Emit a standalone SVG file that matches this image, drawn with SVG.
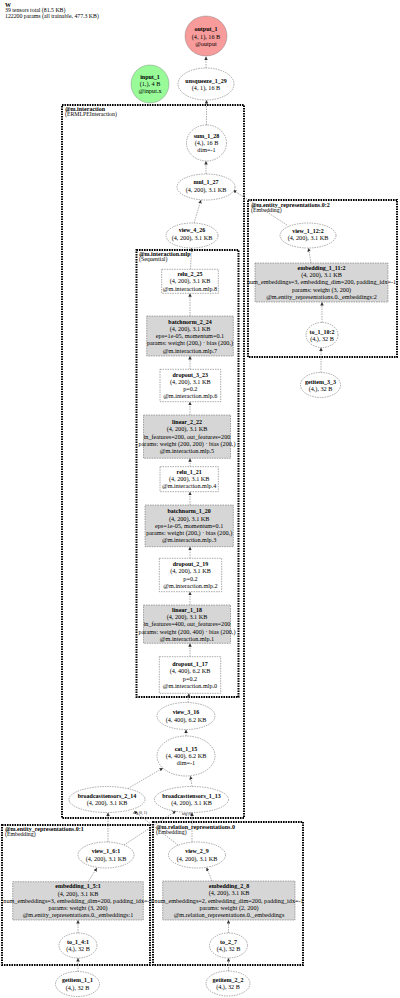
<svg xmlns="http://www.w3.org/2000/svg" width="400" height="998" viewBox="0 0 400 998">
<style>
text{font-family:"Liberation Serif","Times New Roman",serif;font-size:6.2px;fill:#000}
.c{text-anchor:middle}
.b{font-weight:bold;font-size:6px}
.t{font-size:5.8px}
.nd{fill:#fff;stroke:#555;stroke-width:0.5;stroke-dasharray:1.5 1}
.pm{fill:#d6d6d6}
.io{stroke:#777;stroke-width:0.4}
.cl{fill:none;stroke:#000;stroke-width:2;stroke-dasharray:1.6 0.9}
.e{fill:none;stroke:#777;stroke-width:0.6;stroke-dasharray:1.5 1;marker-end:url(#ah)}
.el{font-size:3.8px}
</style>
<defs>
<marker id="ah" viewBox="0 0 10 10" refX="10" refY="5" markerUnits="userSpaceOnUse" markerWidth="3.5" markerHeight="3.5" orient="auto">
<path d="M0,0 L10,5 L0,10 z" fill="#333"/>
</marker>
</defs>
<rect width="400" height="998" fill="#fff"/>
<g id="title">
<text x="5" y="7" class="b">W</text>
<text x="5" y="12.2" class="t">39 tensors total (81.5 KB)</text>
<text x="5" y="17.5" class="t">122200 params (all trainable, 477.3 KB)</text>
</g>
<g id="clusters">
<g id="cl_interaction"><rect class="cl" x="62" y="105" width="182" height="713"/>
<text x="65" y="111" class="b">@m.interaction</text><text x="65" y="116.3" class="t">(ERMLPEInteraction)</text></g>
<g id="cl_entity2"><rect class="cl" x="248" y="200" width="149" height="157"/>
<text x="251" y="206.5" class="b">@m.entity_representations.0:2</text><text x="251" y="212" class="t">(Embedding)</text></g>
<g id="cl_mlp"><rect class="cl" x="136.5" y="250" width="102" height="447"/>
<text x="139" y="256" class="b">@m.interaction.mlp</text><text x="139" y="261.3" class="t">(Sequential)</text></g>
<g id="cl_entity1"><rect class="cl" x="2" y="825" width="148" height="140"/>
<text x="5" y="830.5" class="b">@m.entity_representations.0:1</text><text x="5" y="835.5" class="t">(Embedding)</text></g>
<g id="cl_relation"><rect class="cl" x="153" y="822" width="150" height="143"/>
<text x="156" y="829" class="b">@m.relation_representations.0</text><text x="156" y="834" class="t">(Embedding)</text></g>
</g>
<g id="connectors">
<path class="e" d="M206,68 L206,56.5"/>
<path class="e" d="M206.5,125 L206.5,100"/>
<path class="e" d="M206,174 L206,161"/>
<path class="e" d="M194,223 L201,200"/>
<path class="e" d="M287,225 L233,190"/>
<path class="e" d="M311,263 L308.5,248"/>
<path class="e" d="M322,322.5 L322,302"/>
<path class="e" d="M321,372.5 L321,347.5"/>
<path class="e" d="M190.5,269.3 L191.5,248"/>
<path class="e" d="M190,316 L190,293.3"/>
<path class="e" d="M190,369.3 L190,356"/>
<path class="e" d="M190,415 L190,401.7"/>
<path class="e" d="M190,466.7 L190,458.3"/>
<path class="e" d="M190,505 L190,491.7"/>
<path class="e" d="M190,558.3 L190,546.7"/>
<path class="e" d="M190,605 L190,591.7"/>
<path class="e" d="M190,656.7 L190,643.3"/>
<path class="e" d="M188,702.5 L189,693.3"/>
<path class="e" d="M186,736 L186,729.5"/>
<path class="e" d="M128,788.5 L163,768"/>
<path class="e" d="M192,786.5 L190.5,776"/>
<path class="e" d="M108,842 L108,812.5"/>
<path class="e" d="M124,845 L176,811"/>
<path class="e" d="M178,845 L134,811"/>
<path class="e" d="M192,842 L192,812.5"/>
<path class="e" d="M88,881.7 L97,868"/>
<path class="e" d="M78,933 L78,920"/>
<path class="e" d="M78,971.5 L78,958"/>
<path class="e" d="M212,881 L206.5,867.5"/>
<path class="e" d="M228.5,933 L228.5,920"/>
<path class="e" d="M228.5,971 L228.5,958"/>
<text class="el" x="133" y="814">arg (0, 1)</text>
<text class="el" x="182" y="815">arg (0)</text>
</g>
<g id="output_1"><ellipse class="io" cx="206" cy="36" rx="21" ry="20" fill="#f79b9b"/>
<text class="c b" x="206" y="31.3">output_1</text><text class="c" x="206" y="38.7">(4, 1), 16 B</text><text class="c" x="206" y="45.7">@output</text></g>
<g id="input_1"><circle class="io" cx="150" cy="84" r="19" fill="#98fb98"/>
<text class="c b" x="150" y="79.3">input_1</text><text class="c" x="150" y="86.3">(1,), 4 B</text><text class="c" x="150" y="93">@input.x</text></g>
<g id="unsqueeze_1_29"><ellipse class="nd" cx="206" cy="84" rx="28" ry="16"/>
<text class="c b" x="206" y="83">unsqueeze_1_29</text><text class="c" x="206" y="90.3">(4, 1), 16 B</text></g>
<g id="sum_1_28"><ellipse class="nd" cx="206.5" cy="143" rx="20" ry="18"/>
<text class="c b" x="206.5" y="138">sum_1_28</text><text class="c" x="206.5" y="145">(4,), 16 B</text><text class="c" x="206.5" y="152">dim=-1</text></g>
<g id="mul_1_27"><ellipse class="nd" cx="206" cy="187" rx="29" ry="13"/>
<text class="c b" x="206" y="184.3">mul_1_27</text><text class="c" x="206" y="191.5">(4, 200), 3.1 KB</text></g>
<g id="view_4_26"><ellipse class="nd" cx="192" cy="235.5" rx="26" ry="12.5"/>
<text class="c b" x="192" y="232.3">view_4_26</text><text class="c" x="192" y="239.7">(4, 200), 3.1 KB</text></g>
<g id="view_1_12_2"><ellipse class="nd" cx="308" cy="235.5" rx="28" ry="12.5"/>
<text class="c b" x="308" y="232.6">view_1_12:2</text><text class="c" x="308" y="240">(4, 200), 3.1 KB</text></g>
<g id="embedding_1_11_2"><rect class="nd pm" x="255" y="263" width="133" height="39"/>
<text class="c b" x="321.5" y="269.7">embedding_1_11:2</text><text class="c" x="321.5" y="277">(4, 200), 3.1 KB</text><text class="c" x="321.5" y="284.3">num_embeddings=3, embedding_dim=200, padding_idx=-1</text><text class="c" x="321.5" y="291.5">params: weight (3, 200)</text><text class="c" x="321.5" y="298.7">@m.entity_representations.0._embeddings:2</text></g>
<g id="to_1_10_2"><ellipse class="nd" cx="322" cy="335" rx="16" ry="12.5"/>
<text class="c b" x="322" y="333.7">to_1_10:2</text><text class="c" x="322" y="341">(4,), 32 B</text></g>
<g id="getitem_3_3"><ellipse class="nd" cx="320.5" cy="385" rx="20" ry="12.5"/>
<text class="c b" x="320.5" y="383.7">getitem_3_3</text><text class="c" x="320.5" y="390.8">(4,), 32 B</text></g>
<g id="relu_2_25"><rect class="nd" x="161.7" y="269.3" width="56.6" height="24"/>
<text class="c b" x="190" y="276">relu_2_25</text><text class="c" x="190" y="283.3">(4, 200), 3.1 KB</text><text class="c" x="190" y="290.6">@m.interaction.mlp.8</text></g>
<g id="batchnorm_2_24"><rect class="nd pm" x="146.7" y="316" width="86.6" height="40"/>
<text class="c b" x="190" y="323.5">batchnorm_2_24</text><text class="c" x="190" y="330.75">(4, 200), 3.1 KB</text><text class="c" x="190" y="338">eps=1e-05, momentum=0.1</text><text class="c" x="190" y="345.25">params: weight (200,) · bias (200,)</text><text class="c" x="190" y="352.5">@m.interaction.mlp.7</text></g>
<g id="dropout_3_23"><rect class="nd" x="160" y="369.3" width="60.7" height="32.4"/>
<text class="c b" x="190.3" y="376.6">dropout_3_23</text><text class="c" x="190.3" y="383.9">(4, 200), 3.1 KB</text><text class="c" x="190.3" y="391.1">p=0.2</text><text class="c" x="190.3" y="398.4">@m.interaction.mlp.6</text></g>
<g id="linear_2_22"><rect class="nd pm" x="143.5" y="415" width="87" height="43.3"/>
<text class="c b" x="187" y="424.1">linear_2_22</text><text class="c" x="187" y="431.4">(4, 200), 3.1 KB</text><text class="c" x="187" y="438.6">in_features=200, out_features=200</text><text class="c" x="187" y="445.9">params: weight (200, 200) · bias (200,)</text><text class="c" x="187" y="453.1">@m.interaction.mlp.5</text></g>
<g id="relu_1_21"><rect class="nd" x="160" y="466.7" width="58.3" height="25"/>
<text class="c b" x="189.2" y="473.9">relu_1_21</text><text class="c" x="189.2" y="481.2">(4, 200), 3.1 KB</text><text class="c" x="189.2" y="488.4">@m.interaction.mlp.4</text></g>
<g id="batchnorm_1_20"><rect class="nd pm" x="145" y="505" width="88.3" height="41.7"/>
<text class="c b" x="189.2" y="513.3">batchnorm_1_20</text><text class="c" x="189.2" y="520.6">(4, 200), 3.1 KB</text><text class="c" x="189.2" y="527.8">eps=1e-05, momentum=0.1</text><text class="c" x="189.2" y="535.1">params: weight (200,) · bias (200,)</text><text class="c" x="189.2" y="542.3">@m.interaction.mlp.3</text></g>
<g id="dropout_2_19"><rect class="nd" x="159.3" y="558.3" width="62.4" height="33.4"/>
<text class="c b" x="190.5" y="566.1">dropout_2_19</text><text class="c" x="190.5" y="573.4">(4, 200), 3.1 KB</text><text class="c" x="190.5" y="580.6">p=0.2</text><text class="c" x="190.5" y="587.9">@m.interaction.mlp.2</text></g>
<g id="linear_1_18"><rect class="nd pm" x="143.5" y="605" width="87" height="38.3"/>
<text class="c b" x="187" y="611.7">linear_1_18</text><text class="c" x="187" y="619">(4, 200), 3.1 KB</text><text class="c" x="187" y="626.2">in_features=400, out_features=200</text><text class="c" x="187" y="633.5">params: weight (200, 400) · bias (200,)</text><text class="c" x="187" y="640.7">@m.interaction.mlp.1</text></g>
<g id="dropout_1_17"><rect class="nd" x="159.3" y="656.7" width="61.4" height="36.6"/>
<text class="c b" x="190" y="666.1">dropout_1_17</text><text class="c" x="190" y="673.4">(4, 400), 6.2 KB</text><text class="c" x="190" y="680.6">p=0.2</text><text class="c" x="190" y="687.9">@m.interaction.mlp.0</text></g>
<g id="view_3_16"><ellipse class="nd" cx="186" cy="716" rx="29" ry="13.5"/>
<text class="c b" x="186" y="714.4">view_3_16</text><text class="c" x="186" y="721.6">(4, 400), 6.2 KB</text></g>
<g id="cat_1_15"><ellipse class="nd" cx="186" cy="756" rx="29" ry="20"/>
<text class="c b" x="186" y="750.8">cat_1_15</text><text class="c" x="186" y="758">(4, 400), 6.2 KB</text><text class="c" x="186" y="765.3">dim=-1</text></g>
<g id="broadcasttensors_2_14"><ellipse class="nd" cx="107" cy="799.5" rx="38" ry="13"/>
<text class="c b" x="107" y="797.9">broadcasttensors_2_14</text><text class="c" x="107" y="805.1">(4, 200), 3.1 KB</text></g>
<g id="broadcasttensors_1_13"><ellipse class="nd" cx="191.5" cy="799.5" rx="37" ry="13"/>
<text class="c b" x="191.5" y="797.9">broadcasttensors_1_13</text><text class="c" x="191.5" y="805.1">(4, 200), 3.1 KB</text></g>
<g id="view_1_6_1"><ellipse class="nd" cx="106" cy="855" rx="28" ry="13"/>
<text class="c b" x="106" y="853.4">view_1_6:1</text><text class="c" x="106" y="860.6">(4, 200), 3.1 KB</text></g>
<g id="view_2_9"><ellipse class="nd" cx="197" cy="855" rx="28.5" ry="13"/>
<text class="c b" x="197" y="853.4">view_2_9</text><text class="c" x="197" y="860.6">(4, 200), 3.1 KB</text></g>
<g id="embedding_1_5_1"><rect class="nd pm" x="12.7" y="881.7" width="130.6" height="38.3"/>
<text class="c b" x="78" y="888.3">embedding_1_5:1</text><text class="c" x="78" y="895.6">(4, 200), 3.1 KB</text><text class="c" x="78" y="902.8">num_embeddings=3, embedding_dim=200, padding_idx=-1</text><text class="c" x="78" y="910.1">params: weight (3, 200)</text><text class="c" x="78" y="917.3">@m.entity_representations.0._embeddings:1</text></g>
<g id="embedding_2_8"><rect class="nd pm" x="162.7" y="881" width="132.3" height="39"/>
<text class="c b" x="229" y="888">embedding_2_8</text><text class="c" x="229" y="895.3">(4, 200), 3.1 KB</text><text class="c" x="229" y="902.5">num_embeddings=2, embedding_dim=200, padding_idx=-1</text><text class="c" x="229" y="909.8">params: weight (2, 200)</text><text class="c" x="229" y="917">@m.relation_representations.0._embeddings</text></g>
<g id="to_1_4_1"><ellipse class="nd" cx="78" cy="945.5" rx="19" ry="12.5"/>
<text class="c b" x="78" y="943.9">to_1_4:1</text><text class="c" x="78" y="951.1">(4,), 32 B</text></g>
<g id="getitem_1_1"><ellipse class="nd" cx="77.5" cy="984" rx="22" ry="12.5"/>
<text class="c b" x="77.5" y="982.4">getitem_1_1</text><text class="c" x="77.5" y="989.6">(4,), 32 B</text></g>
<g id="to_2_7"><ellipse class="nd" cx="228.5" cy="945.5" rx="19" ry="12.5"/>
<text class="c b" x="228.5" y="943.9">to_2_7</text><text class="c" x="228.5" y="951.1">(4,), 32 B</text></g>
<g id="getitem_2_2"><ellipse class="nd" cx="228" cy="983.5" rx="22" ry="12.5"/>
<text class="c b" x="228" y="981.9">getitem_2_2</text><text class="c" x="228" y="989.1">(4,), 32 B</text></g>
</svg>
